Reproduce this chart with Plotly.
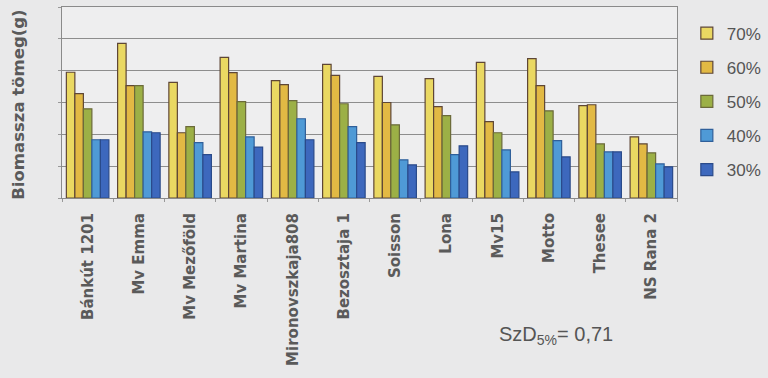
import plotly.graph_objects as go

categories = ["Bánkút 1201", "Mv Emma", "Mv Mezőföld", "Mv Martina", "Mironovszkaja808",
              "Bezosztaja 1", "Soisson", "Lona", "Mv15", "Motto", "Thesee", "NS Rana 2"]
series_names = ["70%", "60%", "50%", "40%", "30%"]
v70 = [3.95, 4.86, 3.63, 4.42, 3.69, 4.20, 3.82, 3.75, 4.26, 4.38, 2.90, 1.92]
v60 = [3.28, 3.53, 2.05, 3.94, 3.56, 3.85, 3.00, 2.87, 2.40, 3.53, 2.93, 1.70]
v50 = [2.80, 3.53, 2.24, 3.03, 3.06, 2.96, 2.30, 2.59, 2.05, 2.74, 1.70, 1.42]
v40 = [1.83, 2.08, 1.74, 1.92, 2.49, 2.24, 1.20, 1.36, 1.51, 1.80, 1.45, 1.07]
v30 = [1.83, 2.05, 1.36, 1.60, 1.83, 1.74, 1.04, 1.64, 0.82, 1.29, 1.45, 0.98]
values = [v70, v60, v50, v40, v30]

colors = ["#ead862", "#e2b944", "#9cb046", "#4f9ad6", "#3d68bd"]
edges = ["#5e4636", "#5e4636", "#6b6a3a", "#2f5f9a", "#2a4a8a"]

fig = go.Figure()
for i, (name, vals) in enumerate(zip(series_names, values)):
    fig.add_trace(go.Bar(
        x=categories, y=vals, name=name, legendgroup=name,
        marker=dict(color=colors[i], line=dict(color=edges[i], width=1.2)),
    ))

fig.update_layout(
    width=768, height=378,
    barmode="group", bargap=0.17, bargroupgap=0,
    paper_bgcolor="#e9e9ea", plot_bgcolor="#eeeeef",
    margin=dict(l=62, r=91, t=7, b=180, autoexpand=False),
    font=dict(family="Liberation Sans, Arial", color="#555555"),
    showlegend=True,
    legend=dict(x=1.016, y=0.955, xanchor="left", yanchor="top",
                bgcolor="rgba(0,0,0,0)", font=dict(size=17, color="#555555"),
                itemwidth=30, tracegroupgap=9),
    xaxis=dict(tickangle=-90,
               tickfont=dict(size=15, color="#5a5a5a", family="DejaVu Sans", weight="bold"),
               showline=True, linecolor="#8a8a8a", mirror=True, ticks="outside",
               tickson="boundaries", ticklen=3, tickcolor="#999999", ticklabelstandoff=8),
    yaxis=dict(range=[0, 6], dtick=1, showticklabels=False, showgrid=True,
               gridcolor="#8d8d8d", gridwidth=1, showline=True, linecolor="#8a8a8a",
               mirror=True, zeroline=False, ticks="outside", ticklen=3, tickcolor="#999999"),
    annotations=[
        dict(text="Biomassza tömeg(g)", textangle=-90, xref="paper", yref="paper",
             x=-0.071, y=0.49, xanchor="center", yanchor="middle", showarrow=False,
             font=dict(size=16.5, color="#5a5a5a", family="DejaVu Sans", weight="bold")),
        dict(text="SzD<sub>5%</sub>= 0,71", xref="paper", yref="paper",
             x=(497 - 62) / 615, y=(198 - 335) / 191, xanchor="left", yanchor="middle",
             showarrow=False, font=dict(size=20, color="#555555")),
    ],
)

fig.write_html("out.html")
